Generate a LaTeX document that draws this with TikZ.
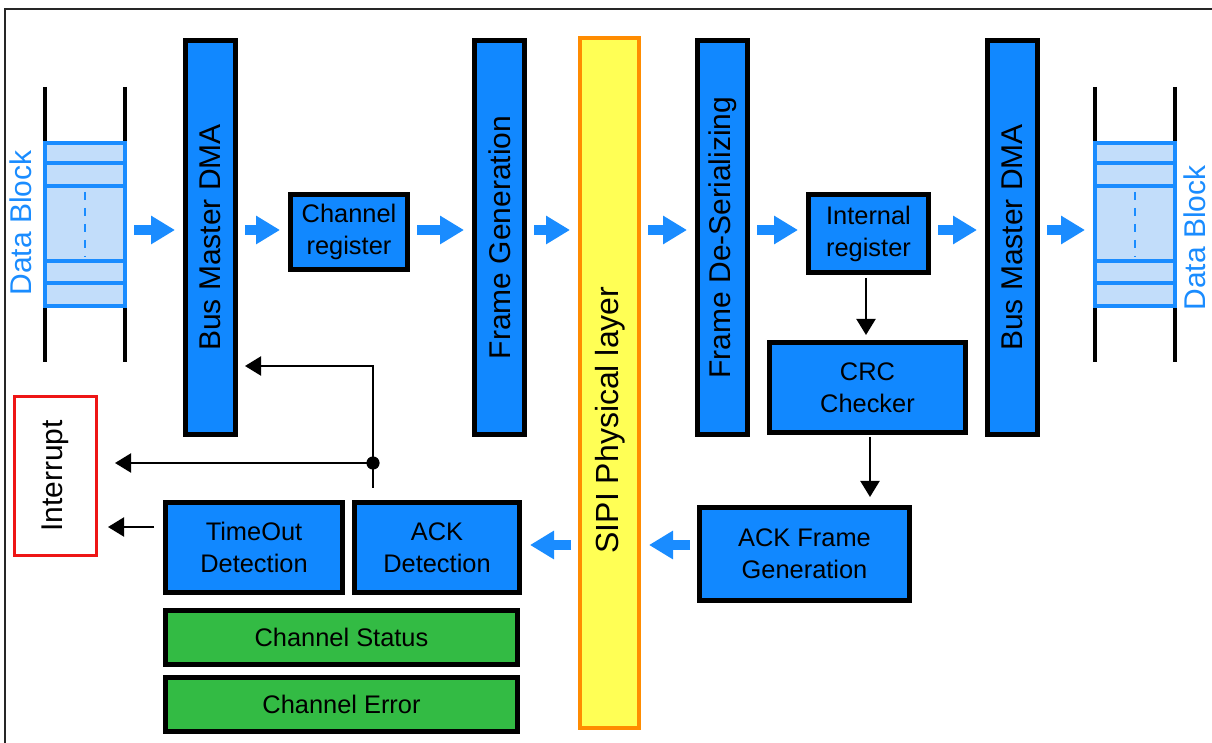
\documentclass[tikz,border=0pt]{standalone}
\usepackage{fontspec}
\setmainfont{Liberation Sans}
\usepackage{graphicx}
\usetikzlibrary{arrows.meta}

\definecolor{boxblue}{HTML}{1188FF}
\definecolor{flowblue}{HTML}{1A8CFF}
\definecolor{lightfill}{HTML}{C2DDFA}
\definecolor{boxgreen}{HTML}{33BB44}
\definecolor{sipiyellow}{HTML}{FFFF55}
\definecolor{sipiorange}{HTML}{FF8C00}
\definecolor{irqred}{HTML}{EE1515}

\begin{document}
\begin{tikzpicture}[x=0.5pt, y=-0.5pt,
        every node/.style={inner sep=0pt, align=center},
        box/.style={draw=black, line width=2.5pt, fill=boxblue, font=\fontsize{12.7}{16}\selectfont},
        tallbox/.style={box, minimum width=25pt, minimum height=197pt, font=\fontsize{15}{18}\selectfont},
        statbox/.style={box, fill=boxgreen, minimum width=176pt, minimum height=27pt},
        datablk/.style={draw=flowblue, line width=2pt, fill=lightfill, minimum width=40pt, minimum height=81.5pt},
        rail/.style={line width=2pt},
        blocktext/.style={rotate=90, text=flowblue, font=\fontsize{15}{18}\selectfont},
        flow/.style={flowblue, line width=5pt, -{Triangle[length=12pt,width=13.5pt]}, shorten <=3.5pt, shorten >=4pt},
        blk/.style={line width=1pt, -{Triangle[length=8pt,width=9.5pt]}}
    ]
    \useasboundingbox (0,0) rectangle (1212,743);
    \draw[line width=1pt, black!85] (5,743) -- (5,9) -- (1212,9);

    % data blocks
    \draw[rail] (45,87) -- (45,362);
    \draw[rail] (125,87) -- (125,362);
    \node[datablk] (dbL) at (85,224.5) {};
    \foreach \y in {163,186,261,283}
        \draw[flowblue, line width=2pt] (45,\y) -- (125,\y);
    \draw[flowblue, line width=0.6pt, dash pattern=on 4pt off 4pt] (85,192) -- (85,257);
    \node[blocktext] (txtL) at (21,223) {Data Block};

    \draw[rail] (1095,87) -- (1095,362);
    \draw[rail] (1175,87) -- (1175,362);
    \node[datablk] (dbR) at (1135,224.5) {};
    \foreach \y in {163,186,261,283}
        \draw[flowblue, line width=2pt] (1095,\y) -- (1175,\y);
    \draw[flowblue, line width=0.6pt, dash pattern=on 4pt off 4pt] (1135,192) -- (1135,257);
    \node[blocktext] (txtR) at (1195,238) {Data Block};

    % blocks
    \node[tallbox] (dmaL) at (210.5,237.5) {\rotatebox{90}{Bus Master DMA}};
    \node[box, minimum width=58.5pt, minimum height=37.5pt] (chreg) at (349,232) {Channel\\register};
    \node[tallbox] (framegen) at (499.5,237.5) {\rotatebox{90}{Frame Generation}};
    \node[draw=sipiorange, line width=2pt, fill=sipiyellow, minimum width=29.5pt, minimum height=345pt] (sipi) at (609.5,383) {};
    \node[rotate=90, font=\fontsize{16}{19}\selectfont] (sipitxt) at (610,420) {SIPI Physical layer};
    \node[tallbox] (deser) at (722.5,237.5) {\rotatebox{90}{Frame De-Serializing}};
    \node[box, minimum width=60pt, minimum height=39pt] (intreg) at (868.5,233.5) {Internal\\register};
    \node[tallbox] (dmaR) at (1012.5,237.5) {\rotatebox{90}{Bus Master DMA}};
    \node[box, minimum width=98pt, minimum height=45pt] (crc) at (867.5,387.5) {CRC\\Checker};
    \node[box, minimum width=105pt, minimum height=46.5pt] (ackgen) at (804.5,554) {ACK Frame\\Generation};
    \node[box, minimum width=82.5pt, minimum height=45pt] (ackdet) at (437,547.5) {ACK\\Detection};
    \node[box, minimum width=88.5pt, minimum height=45pt] (timeout) at (254,547.5) {TimeOut\\Detection};
    \node[statbox] (status) at (341.5,637.5) {Channel Status};
    \node[statbox] (error) at (341.5,704.5) {Channel Error};
    \node[draw=irqred, line width=1.5pt, fill=white, minimum width=41pt, minimum height=79.5pt,
          font=\fontsize{15}{18}\selectfont] (intr) at (55.5,476) {\rotatebox{90}{Interrupt}};

    % data path
    \coordinate (row) at (0,230);
    \coordinate (low) at (0,545);
    \draw[flow] (dbL.east |- row) -- (dmaL.west |- row);
    \draw[flow] (dmaL.east |- row) -- (chreg.west |- row);
    \draw[flow] (chreg.east |- row) -- (framegen.west |- row);
    \draw[flow] (framegen.east |- row) -- (sipi.west |- row);
    \draw[flow] (sipi.east |- row) -- (deser.west |- row);
    \draw[flow] (deser.east |- row) -- (intreg.west |- row);
    \draw[flow] (intreg.east |- row) -- (dmaR.west |- row);
    \draw[flow] (dmaR.east |- row) -- (dbR.west |- row);
    \draw[flow] (ackgen.west |- low) -- (sipi.east |- low);
    \draw[flow] (sipi.west |- low) -- (ackdet.east |- low);

    % control
    \draw[blk, shorten <=1.5pt, shorten >=2.5pt] (intreg.south -| 866,0) -- (crc.north -| 866,0);
    \draw[blk, shorten <=1pt, shorten >=4pt] (crc.south -| 870,0) -- (ackgen.north -| 870,0);
    \coordinate (tap) at (373,463);
    \coordinate (fb) at (0,366);
    \coordinate (irq) at (0,527);
    \draw[blk] ([yshift=6pt]ackdet.north -| tap) -- (tap) |- ([xshift=3.5pt]dmaL.east |- fb);
    \draw[blk] (tap) -- ([xshift=8.5pt]intr.east |- tap);
    \fill (tap) circle (3.3pt);
    \draw[blk, shorten <=4.5pt, shorten >=5pt] (timeout.west |- irq) -- (intr.east |- irq);
\end{tikzpicture}
\end{document}
